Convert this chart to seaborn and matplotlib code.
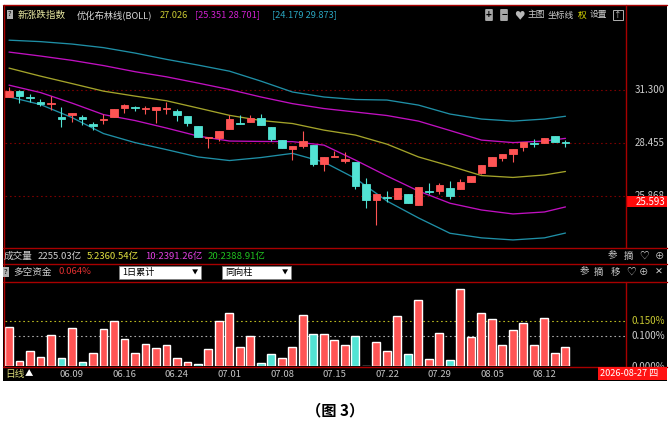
import numpy as np
import pandas as pd
import matplotlib
matplotlib.use("Agg")
import matplotlib.pyplot as plt
import seaborn as sns
from matplotlib.patches import Rectangle
from matplotlib.lines import Line2D
from matplotlib.ticker import NullLocator
from matplotlib.transforms import blended_transform_factory, Bbox

# ---- daily candles (price) ----
opens = [30.93, 31.28, 30.94, 30.66, 30.52, 29.84, 29.95, 29.84, 29.47, 29.68,
         29.84, 30.30, 30.37, 30.25, 30.22, 30.25, 30.17, 29.86, 29.34, 28.70,
         28.73, 29.17, 29.49, 29.56, 29.79, 29.28, 28.60, 28.16, 28.30, 28.35,
         27.38, 27.75, 27.56, 27.51, 26.42, 25.67, 25.81, 25.70, 25.95, 25.44,
         26.09, 26.09, 26.23, 26.19, 26.50, 26.95, 27.31, 27.70, 27.91, 28.25,
         28.47, 28.44, 28.83, 28.49]
highs = [31.51, 31.35, 31.09, 30.81, 31.00, 30.39, 30.06, 29.95, 29.57, 29.97,
         30.28, 30.52, 30.44, 30.44, 30.35, 30.66, 30.25, 29.86, 29.34, 28.75,
         29.10, 29.93, 29.93, 29.93, 29.99, 29.28, 28.60, 28.32, 29.08, 28.35,
         27.76, 28.06, 28.01, 27.51, 26.70, 25.95, 26.10, 26.21, 25.95, 26.27,
         26.48, 26.46, 26.57, 26.68, 26.82, 27.33, 27.76, 27.91, 28.13, 28.52,
         28.66, 28.73, 28.83, 28.61]
lows = [30.93, 30.61, 30.66, 30.44, 30.22, 29.31, 29.57, 29.40, 29.13, 29.47,
        29.84, 30.04, 30.15, 30.00, 29.52, 30.00, 29.61, 29.34, 28.75, 28.22,
        28.57, 29.17, 29.43, 29.56, 29.41, 28.57, 28.19, 27.59, 28.19, 27.31,
        27.05, 27.75, 27.46, 26.17, 25.29, 24.53, 25.59, 25.70, 25.52, 25.44,
        25.95, 25.95, 25.73, 26.19, 26.50, 26.90, 27.31, 27.56, 27.51, 28.06,
        28.24, 28.44, 28.49, 28.24]
closes = [31.28, 31.00, 30.85, 30.55, 30.61, 29.72, 30.06, 29.72, 29.36, 29.74,
          30.28, 30.46, 30.30, 30.30, 30.35, 30.30, 29.92, 29.52, 28.75, 28.75,
          29.10, 29.70, 29.43, 29.76, 29.41, 28.65, 28.19, 28.32, 28.54, 27.38,
          27.76, 27.81, 27.63, 26.33, 25.67, 25.95, 25.74, 26.21, 25.52, 26.27,
          26.03, 26.36, 25.86, 26.50, 26.82, 27.33, 27.76, 27.91, 28.13, 28.52,
          28.40, 28.73, 28.49, 28.46]

# ---- BOLL bands, read every third day ----
band_days = [0, 3, 6, 9, 12, 15, 18, 21, 24, 27, 30, 33, 36, 39, 42, 45, 48, 51, 53]
upper_outer = [34.28, 34.19, 34.04, 33.82, 33.49, 33.11, 32.77, 32.41, 31.83, 31.21,
               30.93, 30.79, 30.76, 30.48, 29.99, 29.72, 29.61, 29.72, 29.87]
upper_inner = [33.55, 33.31, 33.05, 32.74, 32.38, 32.08, 31.72, 31.35, 30.93, 30.56,
               30.29, 30.10, 29.91, 29.61, 29.11, 28.61, 28.48, 28.56, 28.70]
mid_line = [32.59, 32.12, 31.69, 31.26, 30.98, 30.72, 30.32, 29.92, 29.64, 29.48,
            29.13, 28.87, 28.40, 27.75, 27.30, 26.83, 26.74, 26.86, 27.03]
lower_inner = [31.60, 31.18, 30.59, 29.96, 29.64, 29.24, 28.82, 28.56, 28.54, 28.53,
               28.35, 27.59, 26.81, 26.09, 25.52, 25.21, 25.03, 25.12, 25.35]
lower_outer = [30.94, 30.51, 29.80, 28.95, 28.48, 28.12, 27.75, 27.57, 27.72, 27.93,
               27.49, 26.69, 25.62, 24.85, 24.17, 23.97, 23.88, 23.97, 24.18]

price_ticks = [31.300, 28.455, 25.868]
marker_price = 25.593

# ---- long/short money bars (%) ----
flows = [0.130, 0.017, 0.051, 0.030, 0.103, 0.026, 0.126, 0.014, 0.044, 0.122,
         0.150, 0.089, 0.044, 0.074, 0.060, 0.069, 0.026, 0.012, 0.006, 0.056,
         0.151, 0.177, 0.062, 0.099, 0.010, 0.040, 0.027, 0.064, 0.170, 0.108,
         0.106, 0.086, 0.071, 0.100, 0.000, 0.079, 0.051, 0.168, 0.040, 0.219,
         0.022, 0.111, 0.020, 0.256, 0.097, 0.177, 0.156, 0.071, 0.119, 0.142,
         0.071, 0.160, 0.042, 0.064]
cyan_days = [5, 7, 18, 24, 25, 29, 33, 38, 42]
flow_ticks = [0.150, 0.100, 0.000]

date_days = [6, 11, 16, 21, 26, 31, 36, 41, 46, 51]
date_labels = ["06.09", "06.16", "06.24", "07.01", "07.08",
               "07.15", "07.22", "07.29", "08.05", "08.12"]

RED = "#FF5454"
CYAN = "#52E3D4"
FRAME = "#A80000"
GREY = "#CFCFCF"

sns.set_theme(style="dark")
plt.rcParams["font.family"] = ["Noto Sans CJK SC", "DejaVu Sans"]
plt.rcParams["axes.unicode_minus"] = False

W, H = 670, 433
def fx(x): return x / W
def fy(y): return 1 - y / H
def box(x0, y0, x1, y1): return [x0 / W, 1 - y1 / H, (x1 - x0) / W, (y1 - y0) / H]

fig = plt.figure(figsize=(6.7, 4.33), dpi=100)
fig.patch.set_facecolor("white")
fig.add_artist(Rectangle((fx(3), fy(381)), 664 / W, 376 / H, transform=fig.transFigure,
                         fc="black", ec="none", zorder=-1))

def hline(y, x0, x1, color=FRAME, lw=1.0):
    fig.add_artist(Line2D([fx(x0), fx(x1)], [fy(y), fy(y)], transform=fig.transFigure,
                          color=color, lw=lw, zorder=6))

def vline(x, y0, y1, color=FRAME, lw=1.0):
    fig.add_artist(Line2D([fx(x), fx(x)], [fy(y0), fy(y1)], transform=fig.transFigure,
                          color=color, lw=lw, zorder=6))

def label(x, y, s, color=GREY, size=6.9, ha="left", **kw):
    fig.text(fx(x), fy(y), s, color=color, fontsize=size, ha=ha, va="center", zorder=7, **kw)

def clean(ax):
    ax.set_facecolor("black")
    for sp in ax.spines.values():
        sp.set_visible(False)
    ax.xaxis.set_major_locator(NullLocator())
    ax.xaxis.set_minor_locator(NullLocator())
    ax.yaxis.set_major_locator(NullLocator())
    ax.yaxis.set_minor_locator(NullLocator())
    ax.set_xlabel("")
    ax.set_ylabel("")
    ax.grid(False)

# ---- main candle panel ----
ax = fig.add_axes(box(5, 5.5, 625, 248))
ax.set_yscale("log")
days = np.arange(len(opens))
o, h, l, c = map(np.array, (opens, highs, lows, closes))
col = np.where(c >= o, RED, CYAN)

for p in price_ticks:
    ax.axhline(p, color="#7A0000", lw=0.8, ls=(0, (1.5, 2.5)), zorder=1)

for vals, colr in [(upper_outer, "#1F8FA6"), (upper_inner, "#C010C0"), (mid_line, "#A3A32A"),
                   (lower_inner, "#C010C0"), (lower_outer, "#1F8FA6")]:
    sns.lineplot(x=band_days, y=vals, ax=ax, color=colr, lw=0.95, zorder=2)

ax.vlines(days, l, h, colors=col, lw=0.8, zorder=3)
ax.bar(days, np.abs(c - o), bottom=np.minimum(o, c), width=0.74, color=col,
       edgecolor=col, lw=0.6, zorder=4)
clean(ax)
ax.set_xlim(-0.381, 58.67)
ax.set_ylim(23.534, 36.5)

tr = blended_transform_factory(ax.transAxes, ax.transData)
for p in price_ticks:
    ax.text(1.0645, p, f"{p:.3f}", transform=tr, ha="right", va="center",
            color=GREY, fontsize=7, clip_on=False, zorder=5)
ax.add_patch(Rectangle((1.0016, marker_price * 0.990), 0.0661, marker_price * 0.0205,
                       transform=tr, fc="#FF0A0A", ec="none", clip_on=False, zorder=6))
ax.text(1.0645, marker_price, f"{marker_price:.3f}", transform=tr, ha="right", va="center",
        color="white", fontsize=7, clip_on=False, zorder=7)

# ---- money flow bar panel ----
axb = fig.add_axes(box(5, 282, 625, 366))
flow_df = pd.DataFrame({"day": days, "flow": flows,
                        "side": ["down" if d in cyan_days else "up" for d in days]})
sns.barplot(data=flow_df, x="day", y="flow", hue="side", palette={"up": RED, "down": CYAN},
            dodge=False, width=0.76, saturation=1, errorbar=None, legend=False, ax=axb, zorder=3)
axb.axhline(0.15, color="#B8B820", lw=0.8, ls=(0, (1.5, 2.5)), zorder=1)
axb.axhline(0.10, color="#A8A8A8", lw=0.8, ls=(0, (1.5, 2.5)), zorder=1)
clean(axb)
axb.set_xlim(-0.381, 58.67)
axb.set_ylim(0, 0.28)
trb = blended_transform_factory(axb.transAxes, axb.transData)
# the 0.000% label sits on the panel edge and is cut by the date row
cut = Bbox([[626, H - 366.5], [668, H - 282]])
for v, colr in zip(flow_ticks, ["#C8C832", GREY, GREY]):
    t = axb.text(1.0645, v - (0.005 if v == 0 else 0), f"{v:.3f}%", transform=trb,
                 ha="right", va="center", color=colr, fontsize=7)
    t.set_clip_box(cut)
    t.set_clip_on(True)

# ---- date row ----
axd = fig.add_axes(box(3, 367, 667, 381))
axd.set_zorder(1)
clean(axd)
axd.set_xlim(-0.5714, 62.667)
axd.set_ylim(0, 1)
for d, s in zip(date_days, date_labels):
    axd.text(d, 0.45, s, ha="center", va="center", color="#C4C4C4", fontsize=6.8)
label(5, 373.5, "日线", color="#D8D878", size=7)
label(25, 373.5, "▲", color="white", size=6)
fig.add_artist(Rectangle((fx(598), fy(380)), 69 / W, 13 / H, transform=fig.transFigure,
                         fc="#FF1414", ec="none", zorder=7))
label(600, 373.5, "2026-08-27 四", color="white", size=6.6)

# ---- header row ----
label(8, 14.5, "?", color="black", size=5.5,
      bbox=dict(boxstyle="square,pad=0.12", fc="#B0B0B0", ec="none"))
label(18, 15, "新涨跌指数", color="#E6E6A0")
label(77, 15, "优化布林线(BOLL)", color="#D8D8D8", size=6.7)
label(160, 15, "27.026", color="#C8C832", size=6.7)
label(195, 15, "[25.351 28.701]", color="#D020D0", size=6.7)
label(272, 15, "[24.179 29.873]", color="#2AA6C0", size=6.7)
label(489, 15, "+", color="black", size=7, ha="center", fontweight="bold",
      bbox=dict(boxstyle="round,pad=0.1", fc="#A8A8A8", ec="none"))
label(504, 15, "−", color="black", size=7, ha="center", fontweight="bold",
      bbox=dict(boxstyle="round,pad=0.1", fc="#A8A8A8", ec="none"))
label(519, 15, "♥", color="#B8B8B8", size=7.5, ha="center")
label(528, 15, "主图", size=6.3)
label(548, 15, "坐标线", size=6.3)
label(578, 15, "权", color="#E0E000", size=6.3)
label(590, 15, "设置", size=6.3)
label(618, 15, "↑", size=5.5, ha="center",
      bbox=dict(boxstyle="square,pad=0.1", fc="none", ec="#B0B0B0", lw=0.7))

# ---- volume row ----
label(4, 256, "成交量")
label(38, 256, "2255.03亿")
label(87, 256, "5:2360.54亿", color="#E0E040")
label(145, 256, "10:2391.26亿", color="#E040E0")
label(208, 256, "20:2388.91亿", color="#20C020")
for x, s in zip([612, 629, 644, 660], ["参", "摘", "♡", "⊕"]):
    label(x, 256, s, size=6.8, ha="center")

# ---- money flow header row ----
label(4, 272, "?", color="black", size=5.5,
      bbox=dict(boxstyle="square,pad=0.12", fc="#B0B0B0", ec="none"))
label(13, 272, "多空资金")
label(59, 272, "0.064%", color="#E03030")
for x0, x1, s in [(119, 201, "1日累计"), (222, 291, "同向柱")]:
    fig.add_artist(Rectangle((fx(x0), fy(279)), (x1 - x0) / W, 13 / H, transform=fig.transFigure,
                             fc="white", ec="#808080", lw=0.5, zorder=7))
    label(x0 + 3, 272.5, s, color="black", size=6.6)
    label(x1 - 6, 272.5, "▼", color="black", size=4.5, ha="center")
for x, s in zip([584, 599, 615, 631, 644, 659], ["参", "摘", "移", "♡", "⊕", "✕"]):
    label(x, 272, s, size=6.8, ha="center")

# ---- frame lines ----
hline(5, 3, 667)
hline(248.5, 3, 667)
hline(264, 3, 667)
hline(281.5, 3, 667)
hline(366.5, 3, 667)
vline(3.5, 5, 366.5)
vline(625.5, 5, 248.5)
vline(625.5, 281.5, 366.5)

fig.text(0.5, fy(410), "（图 3）", ha="center", va="center", fontsize=11,
         fontweight="bold", color="black")

fig.savefig("out.png", dpi=100, facecolor=fig.get_facecolor())
